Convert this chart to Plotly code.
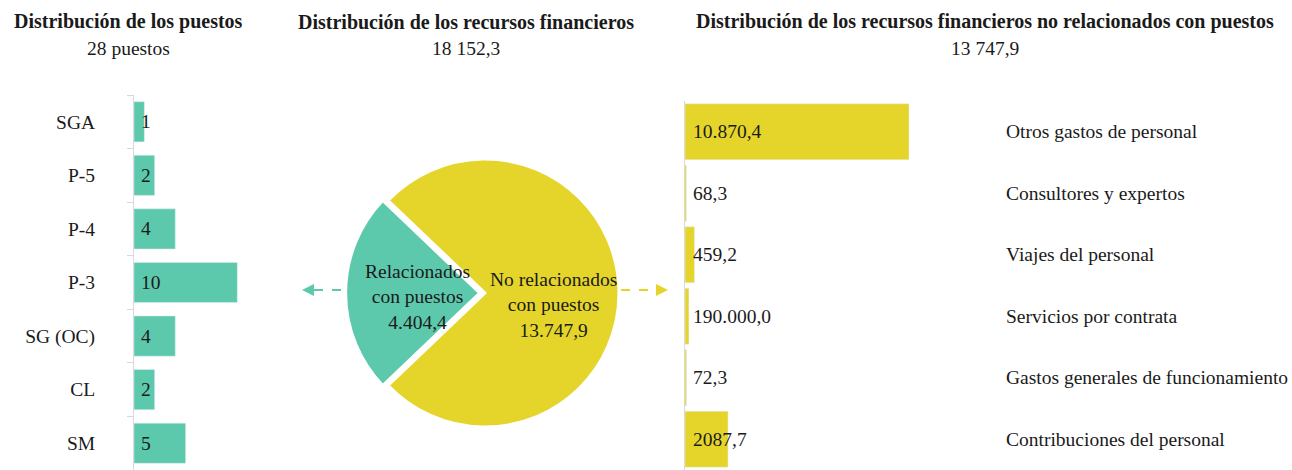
import plotly.graph_objects as go

W, H = 1292, 470

# ---- data ----
grade_cats = ["SGA", "P-5", "P-4", "P-3", "SG (OC)", "CL", "SM"]
grade_counts = [1, 2, 4, 10, 4, 2, 5]

pie_labels = ["Relacionados<br>con puestos<br>4.404,4", "No relacionados<br>con puestos<br>13.747,9"]
pie_values = [4404.4, 13747.9]

nonpost_cats = ["Otros gastos de personal", "Consultores y expertos", "Viajes del personal",
                "Servicios por contrata", "Gastos generales de funcionamiento",
                "Contribuciones del personal"]
nonpost_values = [10870.4, 68.3, 459.2, 190.0, 72.3, 2087.7]
nonpost_text = ["10.870,4", "68,3", "459,2", "190.000,0", "72,3", "2087,7"]

titles = ["Distribución de los puestos", "Distribución de los recursos financieros",
          "Distribución de los recursos financieros no relacionados con puestos"]
subtitles = ["28 puestos", "18 152,3", "13 747,9"]

TEAL = "#5CC8AC"
YELLOW = "#E5D52A"
GRID = "#d9d9d9"
TXT = "#1a1a1a"
SERIF = "Liberation Serif, Times New Roman, serif"
FS = 19.5


def px(x):
    return x / W


def py(y):
    return 1 - y / H


fig = go.Figure()

# left bars
fig.add_trace(go.Bar(y=grade_cats, x=grade_counts, orientation="h", marker_color=TEAL,
                     xaxis="x", yaxis="y", hoverinfo="skip"))

# right bars
fig.add_trace(go.Bar(y=nonpost_cats, x=nonpost_values, orientation="h", marker_color=YELLOW,
                     xaxis="x2", yaxis="y2", hoverinfo="skip", width=0.91))

# pie
cx, cy, R = 485, 293, 134
pull = 0.04
half = R * (1 + pull)
frac0 = pie_values[0] / sum(pie_values)
fig.add_trace(go.Pie(values=pie_values, labels=["Relacionados", "No relacionados"], sort=False,
                     marker=dict(colors=[TEAL, YELLOW], line=dict(color="white", width=3)),
                     pull=[pull, 0], rotation=270 - 180 * frac0, textinfo="none",
                     hoverinfo="skip", showlegend=False,
                     domain=dict(x=[px(cx - half), px(cx + half)], y=[py(cy + half), py(cy - half)])))

annotations = []
# titles
for xc, t, s in zip([128, 466, 985], titles, subtitles):
    annotations.append(dict(x=px(xc), y=py(22), xref="paper", yref="paper", text="<b>" + t + "</b>",
                            xanchor="center", yanchor="middle",
                            showarrow=False, font=dict(family=SERIF, size=20, color=TXT)))
    annotations.append(dict(x=px(xc), y=py(48), xref="paper", yref="paper", text=s,
                            xanchor="center", yanchor="middle",
                            showarrow=False, font=dict(family=SERIF, size=FS, color=TXT)))

# left bar value labels
for c, v in zip(grade_cats, grade_counts):
    annotations.append(dict(x=0, y=c, xref="x", yref="y", text=str(v), xanchor="left",
                            xshift=5, showarrow=False, font=dict(family=SERIF, size=FS, color=TXT)))

# right bar value labels
for c, t in zip(nonpost_cats, nonpost_text):
    annotations.append(dict(x=0, y=c, xref="x2", yref="y2", text=t, xanchor="left",
                            xshift=6, showarrow=False, font=dict(family=SERIF, size=FS, color=TXT)))

# pie labels
annotations.append(dict(x=px(417), y=py(297), xref="paper", yref="paper", text=pie_labels[0],
                        xanchor="center", yanchor="middle",
                        showarrow=False, font=dict(family=SERIF, size=FS, color=TXT)))
annotations.append(dict(x=px(553), y=py(305), xref="paper", yref="paper", text=pie_labels[1],
                        xanchor="center", yanchor="middle",
                        showarrow=False, font=dict(family=SERIF, size=FS, color=TXT)))

# right category labels
for c in nonpost_cats:
    annotations.append(dict(x=px(1004), y=c, xref="paper", yref="y2", text=c, xanchor="left",
                            showarrow=False, font=dict(family=SERIF, size=FS, color=TXT)))

# arrow heads
annotations.append(dict(x=px(302), y=py(290), xref="paper", yref="paper", ax=10, ay=0, text="",
                        showarrow=True, arrowhead=2, arrowsize=1.2, arrowwidth=2, arrowcolor=TEAL))
annotations.append(dict(x=px(668), y=py(290), xref="paper", yref="paper", ax=-10, ay=0, text="",
                        showarrow=True, arrowhead=2, arrowsize=1.2, arrowwidth=2, arrowcolor=YELLOW))

shapes = [
    dict(type="line", xref="paper", yref="paper", x0=px(341), x1=px(306), y0=py(290), y1=py(290),
         line=dict(color=TEAL, width=2, dash="dash")),
    dict(type="line", xref="paper", yref="paper", x0=px(621), x1=px(664), y0=py(290), y1=py(290),
         line=dict(color=YELLOW, width=2, dash="dash")),
]

fig.update_layout(
    width=W, height=H,
    margin=dict(l=0, r=0, t=0, b=0),
    paper_bgcolor="white", plot_bgcolor="white",
    showlegend=False,
    bargap=0.25,
    font=dict(family=SERIF, color=TXT),
    xaxis=dict(domain=[px(134), px(290)], range=[0, 15.1], visible=False, fixedrange=True),
    yaxis=dict(domain=[0, py(95)], autorange="reversed", showline=True, linecolor=GRID, linewidth=1,
               ticks="outside", tickson="boundaries", ticklen=6, tickcolor=GRID,
               ticklabelstandoff=34, showgrid=False, automargin=False,
               tickfont=dict(family=SERIF, size=FS, color=TXT)),
    xaxis2=dict(domain=[px(685), px(1000)], range=[0, 15286], visible=False, anchor="y2"),
    yaxis2=dict(domain=[0, py(101)], autorange="reversed", showline=True, linecolor=GRID, linewidth=1,
                showticklabels=False, ticks="", showgrid=False, anchor="x2"),
    annotations=annotations,
    shapes=shapes,
)

fig.write_html("out.html", config={"displayModeBar": False},
               post_script="document.body.style.margin='0px';")
